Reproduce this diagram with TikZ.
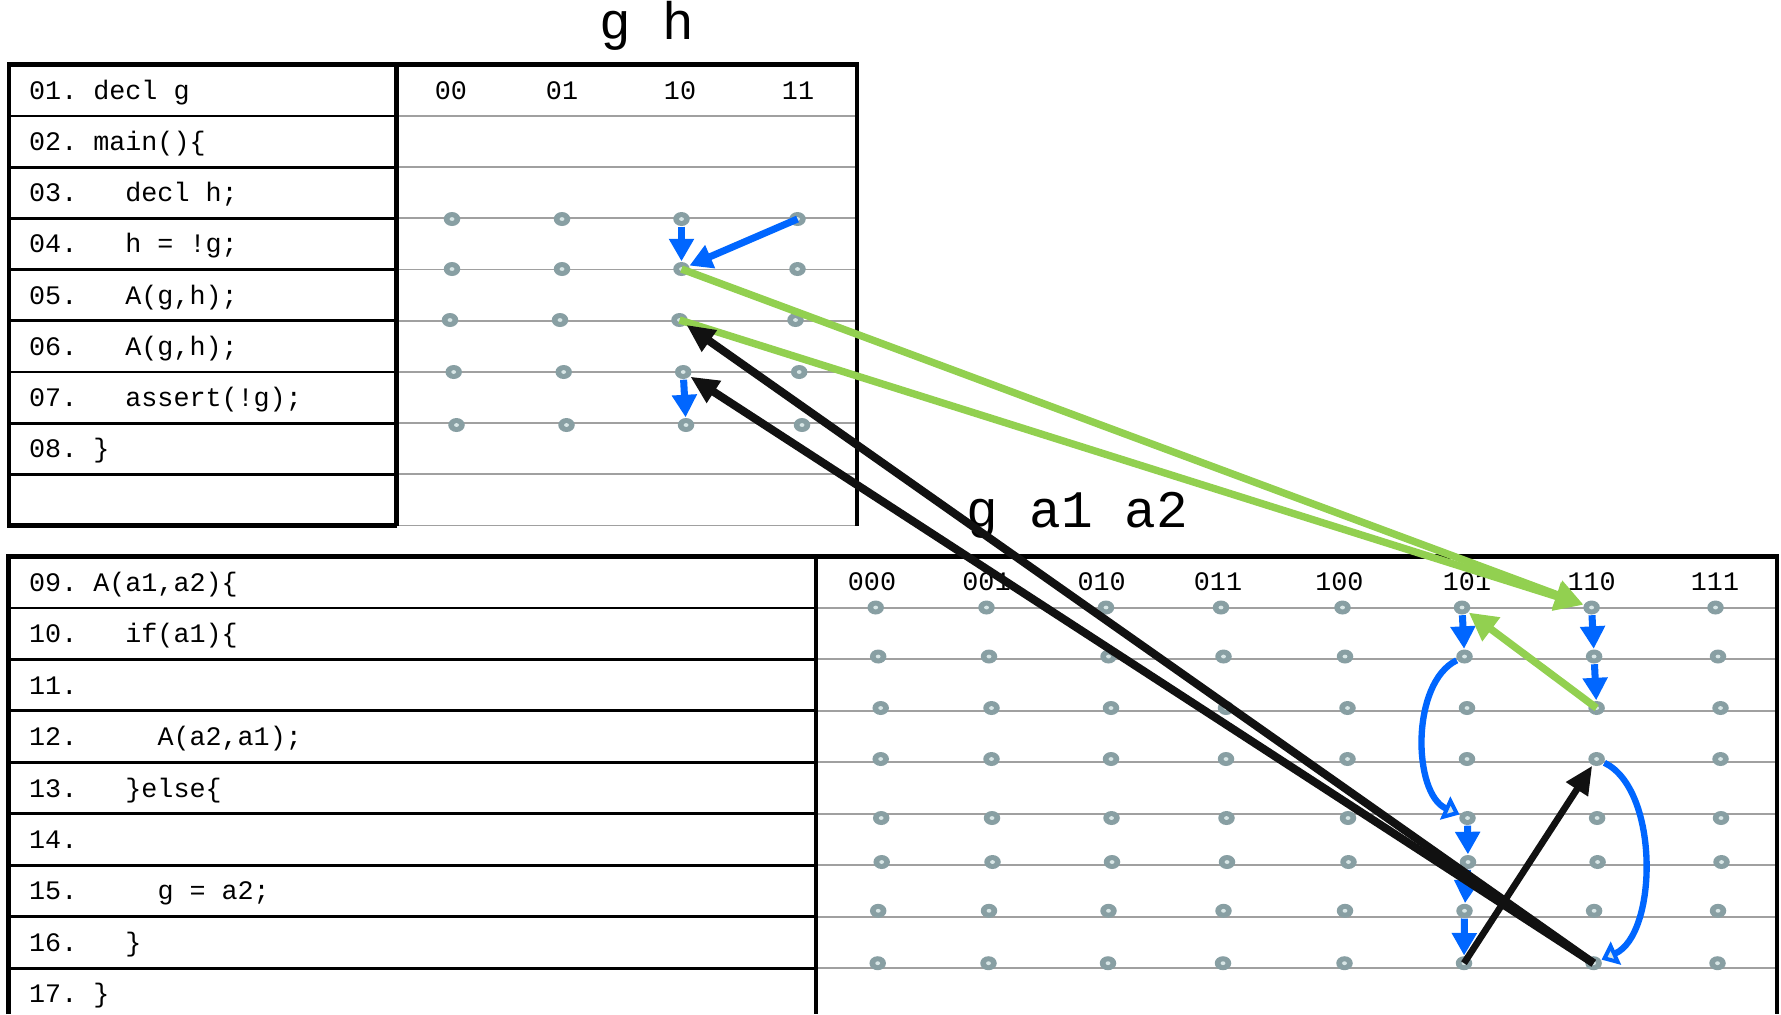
\documentclass[tikz,border=0pt]{standalone}
\usepackage{fontspec}
\setmonofont{Liberation Mono}
\usepackage{xcolor}
\definecolor{colBlue}{HTML}{0066FF}
\definecolor{colGreen}{HTML}{92D050}
\definecolor{colBlack}{HTML}{111111}
\definecolor{colDot}{HTML}{889FA3}
\definecolor{colDotIn}{HTML}{D8E6E6}
\definecolor{colRule}{HTML}{A0A0A0}
\usetikzlibrary{arrows.meta, shapes.geometric}

\begin{document}
\begin{tikzpicture}[x=0.01cm, y=-0.01cm,
    statedot/.style={ellipse, fill=colDot, draw=none, inner sep=0pt,
                     minimum width=0.165cm, minimum height=0.14cm,
                     path picture={\fill[colDotIn] (path picture bounding box.center) ellipse (0.024cm and 0.019cm);}},
    codeline/.style={anchor=base west, inner sep=0pt, font=\ttfamily\fontsize{7.6}{9}\selectfont},
    colhead/.style={anchor=base, inner sep=0pt, font=\ttfamily\fontsize{7.6}{9}\selectfont},
    vartitle/.style={anchor=base, inner sep=0pt, font=\ttfamily\fontsize{15}{18}\selectfont},
    tableframe/.style={black, line width=1.4pt},
    cellline/.style={black, line width=0.8pt},
    gridline/.style={colRule, line width=0.55pt},
    bluearr/.style={colBlue, line width=2pt, -{Triangle[width=6.8pt,length=6.4pt]}},
    greenarr/.style={colGreen, line width=2.1pt, -{Triangle[width=8pt,length=8pt]}},
    blackarr/.style={colBlack, line width=2.3pt, -{Triangle[width=7pt,length=8pt]}},
    bluebend/.style={colBlue, line width=1.8pt, -{Triangle[open,fill=colDotIn,width=7pt,length=4.5pt]}}]
    \useasboundingbox (0,0) rectangle (1781,1014);

    % === Tabella main: g h ===
    \node[vartitle] (title-gh) at (646.7,39.5) {g h};
    \foreach \k in {1,...,8}
        \draw[cellline] (9,{64.7+51.2*\k}) -- (396.5,{64.7+51.2*\k});
    \foreach \k in {1,...,9}
        \draw[gridline] (396.5,{64.7+51.2*\k}) -- (857,{64.7+51.2*\k});
    \draw[tableframe] (396.5,525.5) -- (9,525.5) -- (9,64.7) -- (857,64.7) -- (857,525.5);
    \draw[tableframe] (396.5,64.7) -- (396.5,525.5);

    \foreach \k/\txt in {1/{01. decl g}, 2/{02. main()\{}, 3/{03.~~~decl h;},
                         4/{04.~~~h = !g;}, 5/{05.~~~A(g,h);}, 6/{06.~~~A(g,h);},
                         7/{07.~~~assert(!g);}, 8/{08. \}}}
        \node[codeline] (gh-line-\k) at (28.5,{48.1+51.2*\k}) {\txt};
    \foreach \c/\x in {00/451, 01/562, 10/680, 11/798}
        \node[colhead] (gh-head-\c) at (\x,99.3) {\c};

    % stati (g,h) dopo le righe 03--07
    \foreach \r/\y/\dx in {1/219/0, 2/269/0, 3/320/-2, 4/372/1.7, 5/425/4.5}
        \foreach \c/\x in {00/452, 01/562, 10/681.5, 11/797.5}
            \node[statedot] (gh-\r-\c) at (\x+\dx,\y) {};

    % === Tabella A: g a1 a2 ===
    \node[vartitle] (title-ga) at (1077,527.3) {g a1 a2};
    \foreach \k in {1,...,8}
        \draw[cellline] (8.5,{556.5+51.45*\k}) -- (816,{556.5+51.45*\k});
    \foreach \k in {1,...,8}
        \draw[gridline] (816,{556.5+51.45*\k}) -- (1777,{556.5+51.45*\k});
    \draw[tableframe] (8.5,1014) -- (8.5,556.5) -- (1777,556.5) -- (1777,1014);
    \draw[tableframe] (816,556.5) -- (816,1014);

    \foreach \k/\txt in {1/{09. A(a1,a2)\{}, 2/{10.~~~if(a1)\{}, 3/{11.},
                         4/{12.~~~~~A(a2,a1);}, 5/{13.~~~\}else\{}, 6/{14.},
                         7/{15.~~~~~g = a2;}, 8/{16.~~~\}}, 9/{17. \}}}
        \node[codeline] (ga-line-\k) at (28.5,{539.8+51.45*\k}) {\txt};
    \foreach \c/\x in {000/872, 001/986.5, 010/1101.6, 011/1218,
                       100/1339.4, 101/1467, 110/1591.6, 111/1715}
        \node[colhead] (ga-head-\c) at (\x,590.7) {\c};

    % stati (g,a1,a2) dopo le righe 09--16
    \foreach \r/\y/\dx in {1/607.5/0, 2/656.5/2.5, 3/708/5, 4/759/5,
                           5/818/5.5, 6/862/6, 7/910.8/2.5, 8/963.2/2}
        \foreach \c/\x in {000/875.7, 001/986.5, 010/1106, 011/1221,
                           100/1342.5, 101/1462, 110/1591.6, 111/1715.5}
            \node[statedot] (ga-\r-\c) at (\x+\dx,\y) {};

    % === Archi ===
    \draw[bluearr] (gh-1-10) -- (gh-2-10);
    \draw[bluearr] (gh-1-11.center) -- (gh-2-10);
    \draw[bluearr] (gh-4-10) -- (gh-5-10);

    \draw[bluearr] (ga-1-101) -- (ga-2-101);
    \draw[bluearr] (ga-1-110) -- (ga-2-110);
    \draw[bluearr] (ga-2-110) -- (ga-3-110);
    \draw[bluearr] (ga-5-101) -- (ga-6-101);
    \draw[bluearr] (ga-6-101) -- (ga-7-101);
    \draw[bluearr] (ga-7-101) -- (ga-8-101);
    \draw[bluebend] (ga-2-101) to[bend right=65, looseness=0.85] (ga-5-101);
    \draw[bluebend] (ga-4-110) to[bend left=65, looseness=0.8] (ga-8-110);

    % chiamate e ritorni
    \draw[greenarr] (gh-2-10.center) -- (ga-1-110);
    \draw[greenarr] (gh-3-10.center) -- (ga-1-110);
    \draw[greenarr] (ga-3-110.center) -- (ga-1-101);
    \draw[blackarr] (ga-8-110.center) -- (gh-3-10);
    \draw[blackarr] (ga-8-110.center) -- (gh-4-10);
    \draw[blackarr, line width=1.9pt] (ga-8-101.center) -- (ga-4-110);
\end{tikzpicture}
\end{document}
